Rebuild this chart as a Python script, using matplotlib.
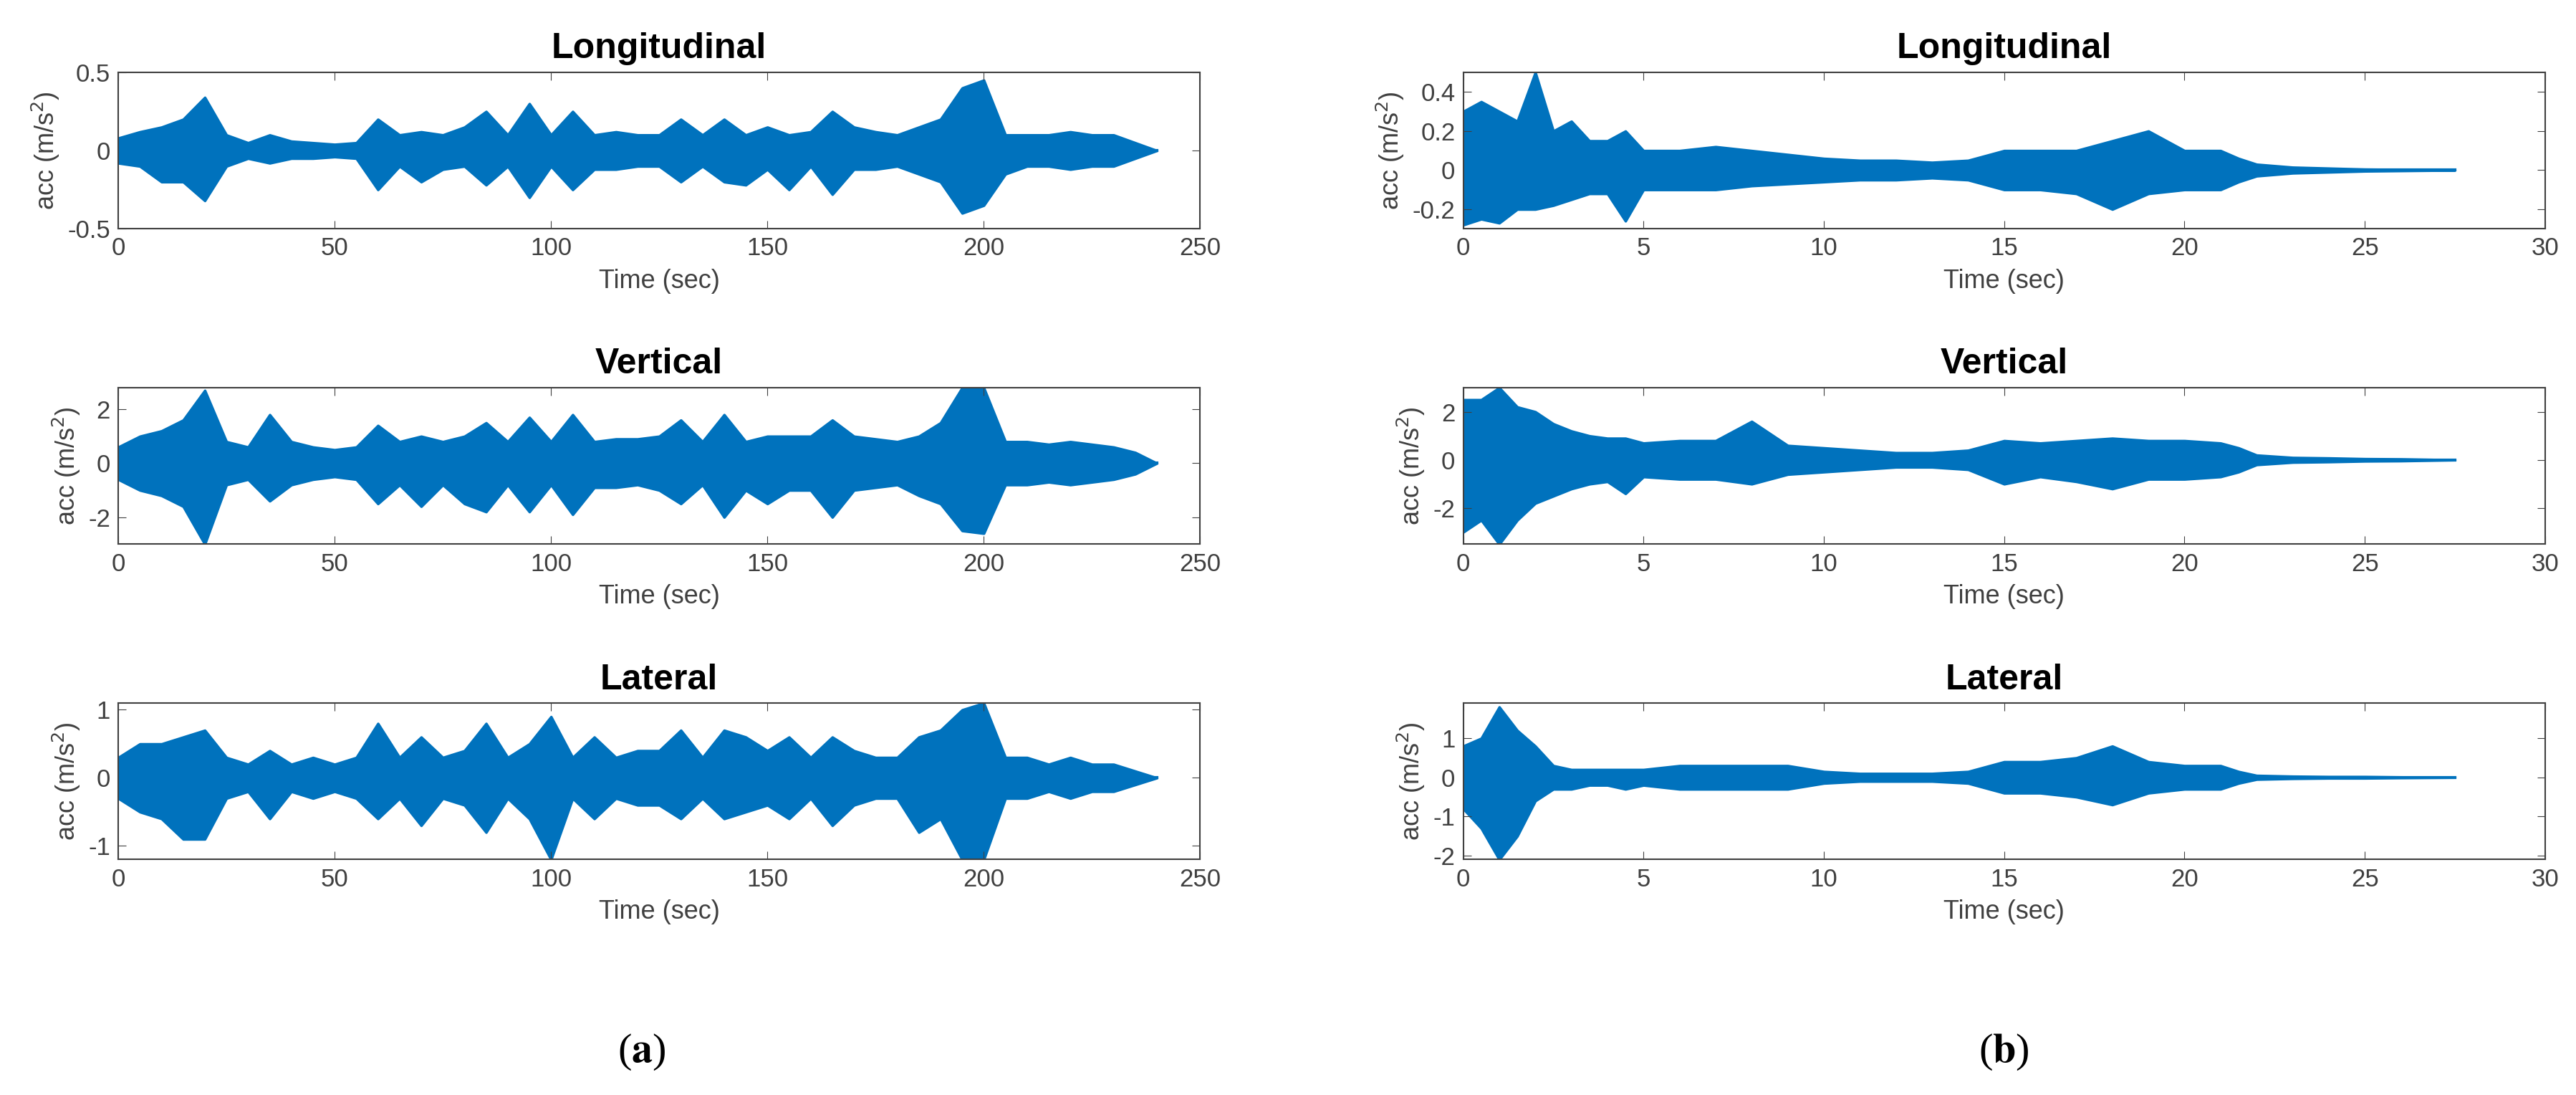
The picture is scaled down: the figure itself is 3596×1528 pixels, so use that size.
import matplotlib
matplotlib.use("Agg")
import matplotlib.pyplot as plt

plt.rcParams['font.family'] = ['Liberation Sans', 'DejaVu Sans']

# Left column (a): envelope knots every 5 s
tA = list(range(0, 245, 5))
longA_up = [0.08,0.12,0.15,0.2,0.34,0.1,0.05,0.1,0.06,0.05,0.04,0.05,0.2,0.1,0.12,0.1,0.15,0.25,0.1,0.3,0.1,0.25,0.1,0.12,0.1,0.1,0.2,0.1,0.2,0.1,0.15,0.1,0.12,0.25,0.15,0.12,0.1,0.15,0.2,0.4,0.45,0.1,0.1,0.1,0.12,0.1,0.1,0.05,0.0]
longA_lo = [-0.08,-0.1,-0.2,-0.2,-0.32,-0.1,-0.05,-0.08,-0.05,-0.05,-0.04,-0.05,-0.25,-0.1,-0.2,-0.12,-0.1,-0.22,-0.1,-0.3,-0.1,-0.25,-0.12,-0.12,-0.1,-0.1,-0.2,-0.1,-0.2,-0.22,-0.12,-0.25,-0.1,-0.28,-0.12,-0.12,-0.1,-0.15,-0.2,-0.4,-0.35,-0.15,-0.1,-0.1,-0.12,-0.1,-0.1,-0.05,0.0]
vertA_up = [0.6,1.0,1.2,1.6,2.7,0.8,0.6,1.8,0.8,0.6,0.5,0.6,1.4,0.8,1.0,0.8,1.0,1.5,0.8,1.7,0.8,1.8,0.8,0.9,0.9,1.0,1.6,0.8,1.8,0.8,1.0,1.0,1.0,1.6,1.0,0.9,0.8,1.0,1.5,2.8,2.8,0.8,0.8,0.7,0.8,0.7,0.6,0.4,0.0]
vertA_lo = [-0.6,-1.0,-1.2,-1.6,-3.0,-0.8,-0.6,-1.4,-0.8,-0.6,-0.5,-0.6,-1.5,-0.8,-1.6,-0.8,-1.5,-1.8,-0.8,-1.8,-0.8,-1.9,-0.9,-0.9,-0.8,-1.0,-1.5,-0.8,-2.0,-1.0,-1.5,-1.0,-1.0,-2.0,-1.0,-0.9,-0.8,-1.2,-1.5,-2.5,-2.6,-0.8,-0.8,-0.7,-0.8,-0.7,-0.6,-0.4,0.0]
latA_up = [0.3,0.5,0.5,0.6,0.7,0.3,0.2,0.4,0.2,0.3,0.2,0.3,0.8,0.3,0.6,0.3,0.4,0.8,0.3,0.5,0.9,0.3,0.6,0.3,0.4,0.4,0.7,0.3,0.7,0.6,0.4,0.6,0.3,0.6,0.4,0.3,0.3,0.6,0.7,1.0,1.1,0.3,0.3,0.2,0.3,0.2,0.2,0.1,0.0]
latA_lo = [-0.3,-0.5,-0.6,-0.9,-0.9,-0.3,-0.2,-0.6,-0.2,-0.3,-0.2,-0.3,-0.6,-0.3,-0.7,-0.3,-0.4,-0.8,-0.3,-0.6,-1.2,-0.3,-0.6,-0.3,-0.4,-0.4,-0.6,-0.3,-0.6,-0.5,-0.4,-0.6,-0.3,-0.7,-0.4,-0.3,-0.3,-0.8,-0.6,-1.2,-1.2,-0.3,-0.3,-0.2,-0.3,-0.2,-0.2,-0.1,0.0]

# Right column (b)
tB = [0,0.5,1,1.5,2,2.5,3,3.5,4,4.5,5,6,7,8,9,10,11,12,13,14,15,16,17,18,19,20,21,21.5,22,23,24,25,26,27.5]
longB_up = [0.3,0.35,0.3,0.25,0.5,0.2,0.25,0.15,0.15,0.2,0.1,0.1,0.12,0.1,0.08,0.06,0.05,0.05,0.04,0.05,0.1,0.1,0.1,0.15,0.2,0.1,0.1,0.06,0.03,0.015,0.01,0.005,0.003,0.0]
longB_lo = [-0.28,-0.25,-0.27,-0.2,-0.2,-0.18,-0.15,-0.12,-0.12,-0.26,-0.1,-0.1,-0.1,-0.08,-0.07,-0.06,-0.05,-0.05,-0.04,-0.05,-0.1,-0.1,-0.12,-0.2,-0.12,-0.1,-0.1,-0.06,-0.03,-0.015,-0.01,-0.005,-0.003,0.0]
vertB_up = [2.5,2.5,3.0,2.2,2.0,1.5,1.2,1.0,0.9,0.9,0.7,0.8,0.8,1.6,0.6,0.5,0.4,0.3,0.3,0.4,0.8,0.7,0.8,0.9,0.8,0.8,0.7,0.5,0.2,0.1,0.08,0.05,0.04,0.0]
vertB_lo = [-3.0,-2.5,-3.5,-2.5,-1.8,-1.5,-1.2,-1.0,-0.9,-1.4,-0.7,-0.8,-0.8,-1.0,-0.6,-0.5,-0.4,-0.3,-0.3,-0.4,-1.0,-0.7,-0.9,-1.2,-0.8,-0.8,-0.7,-0.5,-0.2,-0.1,-0.08,-0.05,-0.04,0.0]
latB_up = [0.8,1.0,1.8,1.2,0.8,0.3,0.2,0.2,0.2,0.2,0.2,0.3,0.3,0.3,0.3,0.15,0.1,0.1,0.1,0.15,0.4,0.4,0.5,0.8,0.4,0.3,0.3,0.15,0.05,0.03,0.02,0.02,0.01,0.0]
latB_lo = [-0.8,-1.3,-2.1,-1.5,-0.6,-0.3,-0.3,-0.2,-0.2,-0.3,-0.2,-0.3,-0.3,-0.3,-0.3,-0.15,-0.1,-0.1,-0.1,-0.15,-0.4,-0.4,-0.5,-0.7,-0.4,-0.3,-0.3,-0.15,-0.05,-0.03,-0.02,-0.02,-0.01,0.0]

titles = ['Longitudinal', 'Vertical', 'Lateral']
color = '#0072BD'

fig = plt.figure(figsize=(35.96, 15.28), dpi=100)

rows_y = [0.791, 0.503, 0.215]
H = 0.143
W = 0.420
cols = [
    dict(x=0.0459, t=tA, data=[(longA_up, longA_lo), (vertA_up, vertA_lo), (latA_up, latA_lo)],
         xlim=(0, 250), xticks=[0, 50, 100, 150, 200, 250],
         ylims=[(-0.5, 0.5), (-3.0, 2.8), (-1.2, 1.1)],
         yticks=[[-0.5, 0, 0.5], [-2, 0, 2], [-1, 0, 1]]),
    dict(x=0.568, t=tB, data=[(longB_up, longB_lo), (vertB_up, vertB_lo), (latB_up, latB_lo)],
         xlim=(0, 30), xticks=[0, 5, 10, 15, 20, 25, 30],
         ylims=[(-0.3, 0.5), (-3.5, 3.0), (-2.1, 1.9)],
         yticks=[[-0.2, 0, 0.2, 0.4], [-2, 0, 2], [-2, -1, 0, 1]]),
]
for c in cols:
    for r, y0 in enumerate(rows_y):
        ax = fig.add_axes([c['x'], y0, W, H])
        up, lo = c['data'][r]
        ax.fill_between(c['t'], lo, up, color=color, linewidth=2.5, edgecolor=color)
        ax.plot(c['t'], [0]*len(c['t']), color=color, lw=3)
        ax.set_xlim(*c['xlim']); ax.set_ylim(*c['ylims'][r])
        ax.set_xticks(c['xticks']); ax.set_yticks(c['yticks'][r])
        ax.set_yticklabels([('%g' % v) for v in c['yticks'][r]])
        ax.tick_params(labelsize=25, colors='#404040', length=8, direction='in', top=True, right=True, pad=8)
        for s in ax.spines.values():
            s.set_color('#404040'); s.set_linewidth(1.5)
        ax.set_xlabel('Time (sec)', fontsize=26, color='#404040', labelpad=8)
        ax.set_ylabel('acc (m/s$^2$)', fontsize=26, color='#404040', labelpad=6)
        ax.set_title(titles[r], fontsize=36, fontweight='bold', pad=14)

fig.text(0.249, 0.039, r'($\mathbf{a}$)', fontsize=42, ha='center', va='center', family='Liberation Serif', math_fontfamily='stix')
fig.text(0.778, 0.039, r'($\mathbf{b}$)', fontsize=42, ha='center', va='center', family='Liberation Serif', math_fontfamily='stix')

fig.savefig('out.png', dpi=100, facecolor='white')
